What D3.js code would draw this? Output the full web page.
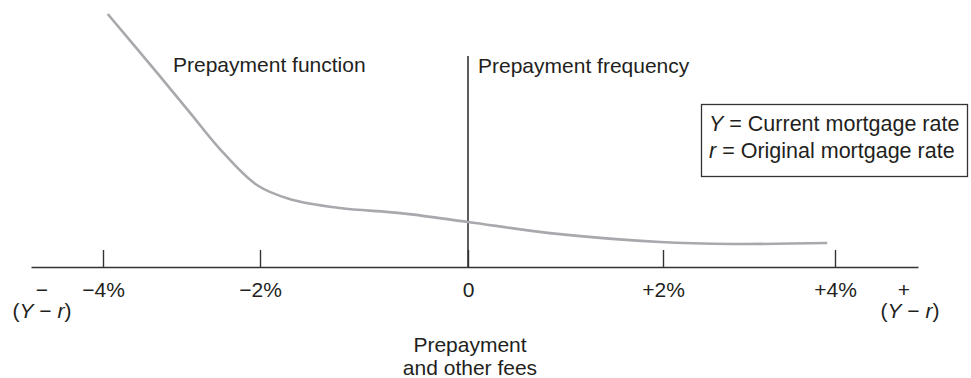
<!DOCTYPE html>
<html>
<head>
<meta charset="utf-8">
<script src="https://cdn.jsdelivr.net/npm/d3@7"></script>
<style>
  html, body { margin: 0; padding: 0; background: #fff; }
  svg { display: block; }
  text { font-family: "Liberation Sans", Arial, Helvetica, sans-serif; fill: #231f20; }
</style>
</head>
<body>
<svg id="chart" width="971" height="378"></svg>
<script>
// ---- data ----
const tickValues = [-4, -2, 0, 2, 4];
const tickLabels = ["\u22124%", "\u22122%", "0", "+2%", "+4%"];
const rateDiff = [-3.94, -3.31, -2.89, -2.51, -2.04, -1.71, -1.23, -0.65, 0, 0.84, 1.97, 2.81, 3.91];
const prepayFreq = [100, 76.7, 60.9, 46.6, 32.4, 26.8, 23.3, 21.3, 17.8, 13.4, 9.9, 9.1, 9.5];
const legendLines = [["Y", " = Current mortgage rate"], ["r", " = Original mortgage rate"]];
const curveLabel = "Prepayment function";
const axisLabel = "Prepayment frequency";
const xTitle = ["Prepayment", "and other fees"];

const svg = d3.select("#chart");
const fs = 21;

// schematic (non-uniform) horizontal scale, as in the reference
const x = d3.scaleLinear()
  .domain([-5, -4, -2, 0, 2, 4, 5])
  .range([31, 103, 260, 468, 663, 835, 918]);
const y = d3.scaleLinear().domain([0, 100]).range([267, 14]);

// horizontal axis with upward ticks
const xAxis = d3.axisBottom(x)
  .tickValues(tickValues)
  .tickFormat((d, i) => tickLabels[i])
  .tickSizeInner(-17)
  .tickSizeOuter(0)
  .tickPadding(15);
const gx = svg.append("g").attr("transform", `translate(0,${y(0)})`).call(xAxis);
gx.select(".domain").attr("stroke", "#333").attr("stroke-width", 1.6);
gx.selectAll(".tick line").attr("stroke", "#333").attr("stroke-width", 1.4);
gx.selectAll(".tick text").attr("font-size", fs).attr("fill", "#231f20")
  .attr("font-family", '"Liberation Sans", Arial, sans-serif');

// vertical axis at 0
svg.append("line")
  .attr("x1", x(0)).attr("x2", x(0))
  .attr("y1", 56).attr("y2", y(0))
  .attr("stroke", "#333").attr("stroke-width", 1.6);

// curve
const line = d3.line()
  .x((d, i) => x(rateDiff[i]))
  .y(d => y(d))
  .curve(d3.curveCatmullRom.alpha(0.5));
svg.append("path")
  .datum(prepayFreq)
  .attr("d", line)
  .attr("fill", "none")
  .attr("stroke", "#a7a9ac")
  .attr("stroke-width", 2.6);

// labels
svg.append("text").attr("x", 173).attr("y", 72).attr("font-size", fs).text(curveLabel);
svg.append("text").attr("x", x(0) + 10).attr("y", 73).attr("font-size", fs).text(axisLabel);

// end labels of the axis
function yrLabel(cx, sign) {
  svg.append("text").attr("x", cx).attr("y", 297).attr("text-anchor", "middle")
    .attr("font-size", fs).text(sign);
  const t = svg.append("text").attr("x", cx + (sign === "+" ? 6 : 0)).attr("y", 318)
    .attr("text-anchor", "middle").attr("font-size", fs);
  t.append("tspan").text("(");
  t.append("tspan").attr("font-style", "italic").text("Y");
  t.append("tspan").text(" \u2212 ");
  t.append("tspan").attr("font-style", "italic").text("r");
  t.append("tspan").text(")");
}
yrLabel(x(-5) + 11, "\u2212");
yrLabel(x(5) - 14, "+");

// x title
xTitle.forEach((s, i) => {
  svg.append("text").attr("x", x(0) + 2).attr("y", 352 + i * 23)
    .attr("text-anchor", "middle").attr("font-size", fs).text(s);
});

// legend box
svg.append("rect").attr("x", 701.5).attr("y", 104.5).attr("width", 266).attr("height", 72)
  .attr("fill", "#fff").attr("stroke", "#333").attr("stroke-width", 1.3);
legendLines.forEach((l, i) => {
  const t = svg.append("text").attr("x", 709).attr("y", 131 + i * 27).attr("font-size", 21.5);
  t.append("tspan").attr("font-style", "italic").text(l[0]);
  t.append("tspan").text(l[1]);
});
</script>
</body>
</html>
